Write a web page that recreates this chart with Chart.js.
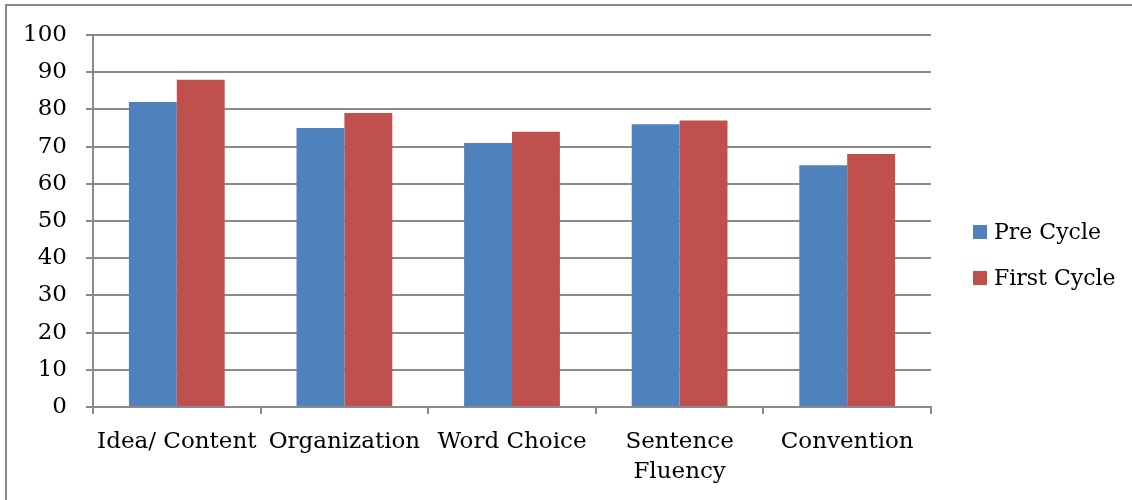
<!DOCTYPE html>
<html>
<head>
<meta charset="utf-8">
<script src="https://cdn.jsdelivr.net/npm/chart.js@4/dist/chart.umd.min.js"></script>
<style>
  html, body { margin: 0; padding: 0; background: #fff; }
  #wrap { position: relative; width: 1132px; height: 500px; overflow: hidden; }
  #frame { position: absolute; left: 5px; top: 4px; width: 1200px; height: 600px;
           border-left: 2px solid #878787; border-top: 2px solid #878787; }
  canvas { position: absolute; left: 0; top: 0; }
</style>
</head>
<body>
<div id="wrap">
  <div id="frame"></div>
  <canvas id="chart" width="1132" height="500"></canvas>
</div>
<script>
// Writing-trait scores for the two cycles
const categories = ["Idea/ Content", "Organization", "Word Choice", ["Sentence", "Fluency"], "Convention"];
const preCycle   = [82, 75, 71, 76, 65];
const firstCycle = [88, 79, 74, 77, 68];
const yTicks     = [0, 10, 20, 30, 40, 50, 60, 70, 80, 90, 100];

const FONT = "'DejaVu Serif', 'Liberation Serif', serif";
const GRID = '#8a8a8a';

// Legend drawn at the right of the plot, from the datasets themselves
const sideLegend = {
  id: 'sideLegend',
  afterDraw(chart) {
    const ctx = chart.ctx;
    ctx.save();
    ctx.font = "22px " + FONT;
    ctx.textBaseline = 'middle';
    ctx.textAlign = 'left';
    chart.data.datasets.forEach((ds, i) => {
      const y = 232 + i * 46;
      ctx.fillStyle = ds.backgroundColor;
      ctx.fillRect(973, y - 7, 14, 14);
      ctx.fillStyle = '#000';
      ctx.fillText(ds.label, 994, y + 1);
    });
    ctx.restore();
  }
};

new Chart(document.getElementById('chart'), {
  type: 'bar',
  data: {
    labels: categories,
    datasets: [
      { label: 'Pre Cycle',   data: preCycle,   backgroundColor: '#4F81BD' },
      { label: 'First Cycle', data: firstCycle, backgroundColor: '#C0504D' }
    ]
  },
  options: {
    responsive: false,
    animation: false,
    devicePixelRatio: 1,
    layout: { padding: { left: 0, right: 201, top: 35, bottom: 0 } },
    categoryPercentage: 2 / 3.5,
    barPercentage: 1.0,
    plugins: { legend: { display: false }, tooltip: { enabled: false } },
    scales: {
      x: {
        grid: { display: true, drawOnChartArea: false, drawTicks: true, tickLength: 7,
                color: GRID, lineWidth: 2, offset: true },
        border: { display: true, color: GRID, width: 2 },
        ticks: { color: '#000', font: { family: FONT, size: 23, lineHeight: 1.3 }, padding: 13,
                 maxRotation: 0, autoSkip: false },
        afterFit(scale) { scale.height = 93; }
      },
      y: {
        min: 0, max: 100,
        afterBuildTicks(scale) { scale.ticks = yTicks.map(v => ({ value: v })); },
        grid: { color: GRID, lineWidth: 2, tickLength: 7, drawTicks: true },
        border: { display: true, color: GRID, width: 2 },
        ticks: { color: '#000', font: { family: FONT, size: 23 }, padding: 19 },
        afterFit(scale) { scale.width = 93; }
      }
    }
  },
  plugins: [sideLegend]
});
</script>
</body>
</html>
